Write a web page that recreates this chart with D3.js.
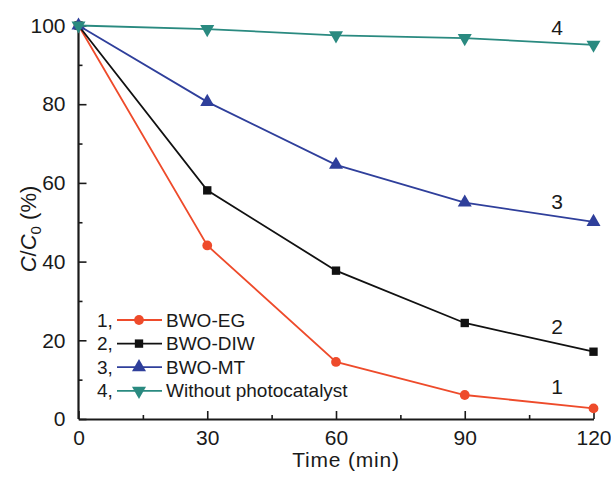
<!DOCTYPE html>
<html>
<head>
<meta charset="utf-8">
<script src="https://cdn.jsdelivr.net/npm/d3@7"></script>
<style>
 body{margin:0;background:#fff;}
 text{font-family:"Liberation Sans",Arial,sans-serif;fill:#1a1a1a;}
</style>
</head>
<body>
<script>
var times=[0,30,60,90,120];
var eg=[100,44.1,14.5,6.1,2.7];
var diw=[100,58.1,37.7,24.4,17.1];
var mt=[100,80.6,64.6,55.0,50.1];
var blank=[100,99.1,97.5,96.8,95.1];
var names=["BWO-EG","BWO-DIW","BWO-MT","Without photocatalyst"];
var xTicks=[0,30,60,90,120];
var yTicks=[0,20,40,60,80,100];

var svg=d3.select("body").append("svg")
  .attr("width",611)
  .attr("height",477);

var x=d3.scaleLinear().domain([0,120]).range([78.5,593.5]);
var y=d3.scaleLinear().domain([0,100]).range([419,25.5]);

// axes, ticks point inward
var xa=svg.append("g").attr("transform","translate(0,419)")
  .call(d3.axisBottom(x).tickValues(xTicks).tickSize(-8).tickPadding(11).tickSizeOuter(0));
svg.append("g").attr("transform","translate(0,419)")
  .call(d3.axisBottom(x).tickValues([15,45,75,105]).tickSize(-4).tickFormat("").tickSizeOuter(0))
  .select(".domain").remove();
var ya=svg.append("g").attr("transform","translate(78.5,0)")
  .call(d3.axisLeft(y).tickValues(yTicks).tickSize(-8).tickPadding(13).tickSizeOuter(0));
svg.append("g").attr("transform","translate(78.5,0)")
  .call(d3.axisLeft(y).tickValues([10,30,50,70,90]).tickSize(-4).tickFormat("").tickSizeOuter(0))
  .select(".domain").remove();
svg.selectAll(".domain").attr("stroke","#1a1a1a").attr("stroke-width",2.2);
svg.selectAll(".tick line").attr("stroke","#1a1a1a").attr("stroke-width",1.6);
svg.selectAll(".tick text").style("font-size","21px").attr("fill","#1a1a1a");
ya.select(".domain").attr("d","M0,"+y(100)+"V419");

var series=[
  {v:eg,color:"#ee4b2b",shape:d3.symbolCircle,size:75,rot:0,lab:"1"},
  {v:diw,color:"#111111",shape:d3.symbolSquare,size:70,rot:0,lab:"2"},
  {v:mt,color:"#2f3f9b",shape:d3.symbolTriangle,size:85,rot:0,lab:"3"},
  {v:blank,color:"#2a8a80",shape:d3.symbolTriangle,size:85,rot:180,lab:"4"}
];

var line=d3.line().x(function(d,i){return x(times[i]);}).y(function(d){return y(d);});

series.forEach(function(s){
  svg.append("path").attr("d",line(s.v))
    .attr("fill","none").attr("stroke",s.color).attr("stroke-width",1.8);
  svg.selectAll(null).data(s.v).enter().append("path")
    .attr("d",d3.symbol().type(s.shape).size(s.size))
    .attr("transform",function(d,i){return "translate("+x(times[i])+","+y(d)+") rotate("+s.rot+")";})
    .attr("fill",s.color);
});

// curve numbers
var labY=[387,327,202,28];
series.forEach(function(s,i){
  svg.append("text").attr("x",557).attr("y",labY[i]).attr("text-anchor","middle")
    .attr("dy","0.35em").style("font-size","21px").text(s.lab);
});

// legend
series.forEach(function(s,i){
  var ly=320+i*23.6;
  svg.append("text").attr("x",97).attr("y",ly).attr("dy","0.35em")
    .style("font-size","19px").text((i+1)+",");
  svg.append("line").attr("x1",117).attr("x2",162).attr("y1",ly).attr("y2",ly)
    .attr("stroke",s.color).attr("stroke-width",1.8);
  svg.append("path").attr("d",d3.symbol().type(s.shape).size(s.size))
    .attr("transform","translate(139,"+ly+") rotate("+s.rot+")").attr("fill",s.color);
  svg.append("text").attr("x",166).attr("y",ly).attr("dy","0.35em")
    .style("font-size","19px").text(names[i]);
});

// axis titles
svg.append("text").attr("x",346).attr("y",467).attr("text-anchor","middle")
  .style("font-size","21px").style("letter-spacing","0.8px").text("Time (min)");
var yt=svg.append("text").attr("transform","translate(36,229) rotate(-90)")
  .attr("text-anchor","middle").style("font-size","22px");
yt.append("tspan").style("font-style","italic").text("C");
yt.append("tspan").text("/");
yt.append("tspan").style("font-style","italic").text("C");
yt.append("tspan").attr("dy",5).style("font-size","15px").text("0");
yt.append("tspan").attr("dy",-5).text(" (%)");
</script>
</body>
</html>
